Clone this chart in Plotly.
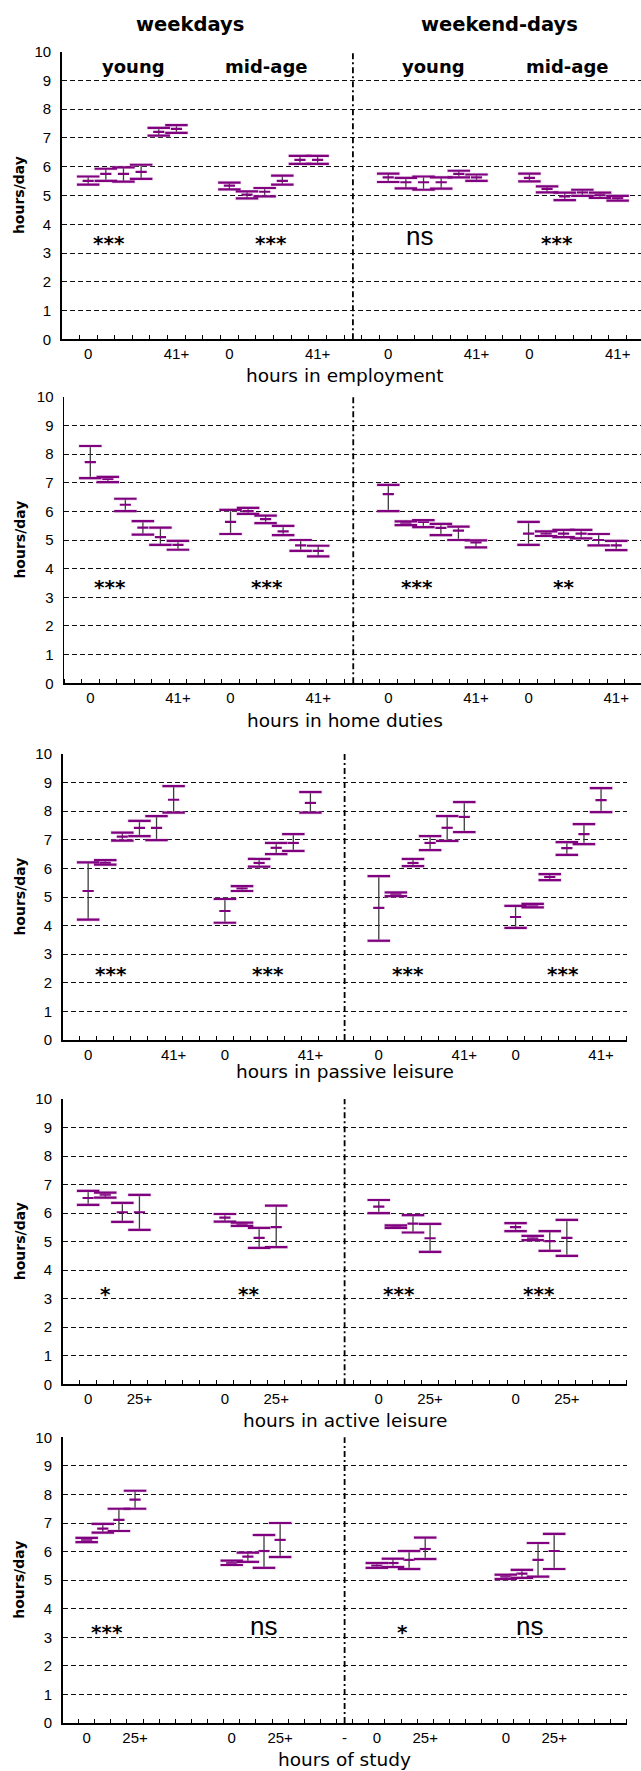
import plotly.graph_objects as go

W, H = 641, 1771
OFF = 0  # body margin is removed in the page, so figure pixels == window pixels

PURPLE = '#800080'
HALO = 'rgba(205,160,205,0.40)'
FONT = 'Liberation Sans, Arial, Helvetica, sans-serif'
WIDE = 'DejaVu Sans, Verdana, sans-serif'
NARROW = 'Liberation Sans Narrow, Liberation Sans, Arial, sans-serif'


def px_x(px):
    return (px - OFF) / W


def px_y(py):
    return 1 - (py - OFF) / H


# ------------------------------------------------------------------ data
# order in every panel: weekdays-young, weekdays-mid-age, weekend-young, weekend-mid-age
six_slots = [1, 2, 3, 4, 5, 6, 9, 10, 11, 12, 13, 14,
             18, 19, 20, 21, 22, 23, 26, 27, 28, 29, 30, 31]
six_tick_slots = [1, 6, 9, 14, 18, 23, 26, 31]
six_tick_text = ['0', '41+', '0', '41+', '0', '41+', '0', '41+']

# hours in employment
emp_mean = [5.51, 5.75, 5.75, 5.82, 7.21, 7.32, 5.34, 5.03, 5.13, 5.51, 6.24, 6.24,
            5.63, 5.46, 5.46, 5.46, 5.75, 5.63, 5.61, 5.23, 4.97, 5.11, 5.02, 4.91]
emp_hi = [5.66, 5.93, 5.98, 6.07, 7.35, 7.45, 5.45, 5.14, 5.26, 5.69, 6.38, 6.38,
          5.76, 5.61, 5.66, 5.63, 5.86, 5.73, 5.76, 5.32, 5.10, 5.20, 5.10, 4.99]
emp_lo = [5.38, 5.51, 5.48, 5.58, 7.08, 7.18, 5.21, 4.90, 4.97, 5.38, 6.10, 6.10,
          5.47, 5.25, 5.20, 5.24, 5.63, 5.51, 5.49, 5.11, 4.84, 4.99, 4.92, 4.82]
emp_sig = ['***', '***', 'ns', '***']
emp_sig_x = [2.7, 11.86, 20.25, 28.05]
emp_sig_y = [3.44, 3.44, 3.5, 3.44]

# hours in home duties
home_mean = [7.72, 7.13, 6.23, 5.43, 5.10, 4.83, 5.63, 6.01, 5.73, 5.30, 4.81, 4.62,
             6.60, 5.59, 5.63, 5.42, 5.33, 4.92, 5.22, 5.22, 5.22, 5.22, 5.00, 4.81]
home_hi = [8.28, 7.20, 6.44, 5.66, 5.43, 4.97, 6.05, 6.12, 5.85, 5.49, 5.00, 4.80,
           6.92, 5.65, 5.69, 5.56, 5.47, 4.99, 5.63, 5.30, 5.35, 5.35, 5.21, 4.97]
home_lo = [7.16, 7.02, 6.01, 5.19, 4.83, 4.66, 5.21, 5.91, 5.59, 5.17, 4.62, 4.43,
           6.01, 5.52, 5.45, 5.17, 5.00, 4.74, 4.83, 5.14, 5.10, 5.06, 4.81, 4.65]
home_sig = ['***', '***', '***', '**']
home_sig_x = [2.64, 11.59, 20.16, 28.5]
home_sig_y = [3.47, 3.47, 3.47, 3.47]

# hours in passive leisure
pas_mean = [5.21, 6.19, 7.11, 7.42, 7.42, 8.40, 4.51, 5.30, 6.19, 6.72, 6.89, 8.29,
            4.62, 5.10, 6.19, 6.89, 7.42, 7.80, 4.30, 4.70, 5.70, 6.71, 7.20, 8.39]
pas_hi = [6.21, 6.29, 7.25, 7.66, 7.83, 8.88, 4.93, 5.38, 6.33, 6.89, 7.20, 8.67,
          5.73, 5.16, 6.33, 7.13, 7.83, 8.32, 4.69, 4.76, 5.80, 6.92, 7.55, 8.81]
pas_lo = [4.21, 6.13, 6.97, 7.13, 6.99, 7.95, 4.10, 5.21, 6.06, 6.50, 6.61, 7.95,
          3.47, 5.03, 6.08, 6.64, 6.96, 7.27, 3.92, 4.64, 5.59, 6.47, 6.85, 7.97]
pas_sig = ['***', '***', '***', '***']
pas_sig_x = [2.82, 12.0, 20.2, 29.3]
pas_sig_y = [2.41, 2.41, 2.41, 2.41]

# hours in active leisure
act_slots = [1, 2, 3, 4, 9, 10, 11, 12, 18, 19, 20, 21, 26, 27, 28, 29]
act_tick_slots = [1, 4, 9, 12, 18, 21, 26, 29]
act_tick_text = ['0', '25+', '0', '25+', '0', '25+', '0', '25+']
act_mean = [6.53, 6.65, 6.03, 6.03, 5.84, 5.61, 5.13, 5.51,
            6.23, 5.53, 5.63, 5.12, 5.51, 5.12, 5.02, 5.13]
act_hi = [6.78, 6.72, 6.36, 6.64, 5.97, 5.67, 5.48, 6.26,
          6.46, 5.57, 5.93, 5.62, 5.65, 5.20, 5.37, 5.76]
act_lo = [6.29, 6.54, 5.69, 5.41, 5.70, 5.55, 4.78, 4.81,
          6.00, 5.48, 5.32, 4.64, 5.37, 5.05, 4.68, 4.50]
act_sig = ['*', '**', '***', '***']
act_sig_x = [2.51, 10.88, 19.7, 27.85]
act_sig_y = [3.28, 3.28, 3.28, 3.28]

# hours of study
stu_slots = [1, 2, 3, 4, 10, 11, 12, 13, 19, 20, 21, 22, 27, 28, 29, 30]
stu_tick_slots = [1, 4, 10, 13, 17, 19, 22, 27, 30]
stu_tick_text = ['0', '25+', '0', '25+', '-', '0', '25+', '0', '25+']
stu_mean = [6.41, 6.80, 7.11, 7.82, 5.60, 5.82, 6.02, 6.41,
            5.51, 5.60, 5.71, 6.09, 5.12, 5.23, 5.71, 6.02]
stu_hi = [6.48, 6.97, 7.50, 8.13, 5.68, 5.96, 6.58, 7.00,
          5.60, 5.75, 6.02, 6.49, 5.19, 5.36, 6.30, 6.62]
stu_lo = [6.33, 6.66, 6.72, 7.50, 5.53, 5.64, 5.43, 5.81,
          5.43, 5.46, 5.39, 5.74, 5.04, 5.08, 5.12, 5.39]
stu_sig = ['***', 'ns', '*', 'ns']
stu_sig_x = [2.77, 12.45, 21.1, 28.95]
stu_sig_y = [3.28, 3.28, 3.28, 3.28]

y_ticks = list(range(0, 11))

# ------------------------------------------------------------------ layout geometry (window pixels)
panels = [
    dict(slots=six_slots, mean=emp_mean, hi=emp_hi, lo=emp_lo,
         tslots=six_tick_slots, ttext=six_tick_text,
         sig=emp_sig, sx=emp_sig_x, sy=emp_sig_y, title='hours in employment',
         left=61.7, right=641, top=51.7, bottom=339.3, xmax=(641 - 61.7) / 17.65,
         nslots=33, div=16.5, title_y=375),
    dict(slots=six_slots, mean=home_mean, hi=home_hi, lo=home_lo,
         tslots=six_tick_slots, ttext=six_tick_text,
         sig=home_sig, sx=home_sig_x, sy=home_sig_y, title='hours in home duties',
         left=64.0, right=641, top=396.7, bottom=683.3, xmax=(641 - 64.0) / 17.53,
         nslots=33, div=16.5, title_y=720),
    dict(slots=six_slots, mean=pas_mean, hi=pas_hi, lo=pas_lo,
         tslots=six_tick_slots, ttext=six_tick_text,
         sig=pas_sig, sx=pas_sig_x, sy=pas_sig_y, title='hours in passive leisure',
         left=62.5, right=626.7, top=754, bottom=1040, xmax=33,
         nslots=33, div=16.5, title_y=1071.7),
    dict(slots=act_slots, mean=act_mean, hi=act_hi, lo=act_lo,
         tslots=act_tick_slots, ttext=act_tick_text,
         sig=act_sig, sx=act_sig_x, sy=act_sig_y, title='hours in active leisure',
         left=62.5, right=626.7, top=1099, bottom=1384.3, xmax=33,
         nslots=33, div=16.5, title_y=1420),
    dict(slots=stu_slots, mean=stu_mean, hi=stu_hi, lo=stu_lo,
         tslots=stu_tick_slots, ttext=stu_tick_text,
         sig=stu_sig, sx=stu_sig_x, sy=stu_sig_y, title='hours of study',
         left=62.5, right=626.7, top=1437.3, bottom=1723, xmax=35,
         nslots=35, div=17.5, title_y=1759),
]

fig = go.Figure()
layout = dict(width=W, height=H, margin=dict(l=0, r=0, t=0, b=0, pad=0, autoexpand=False),
              paper_bgcolor='white', plot_bgcolor='white', showlegend=False)
shapes, annotations = [], []

for i, p in enumerate(panels, start=1):
    sfx = '' if i == 1 else str(i)
    xa, ya = 'x' + sfx, 'y' + sfx
    xs = [s + 0.5 for s in p['slots']]
    up = [h - m for h, m in zip(p['hi'], p['mean'])]
    dn = [m - l for m, l in zip(p['mean'], p['lo'])]

    # stems + mean marks
    fig.add_trace(go.Scatter(
        x=xs, y=p['mean'], mode='markers', xaxis=xa, yaxis=ya, hoverinfo='skip',
        marker=dict(symbol='line-ew', size=8, color=PURPLE,
                    line=dict(color=PURPLE, width=2.2)),
        error_y=dict(type='data', symmetric=False, array=up, arrayminus=dn,
                     color='#3c3c3c', thickness=1.3, width=0)))
    capx = xs + xs
    capy = list(p['hi']) + list(p['lo'])
    # caps: soft halo then purple bar
    fig.add_trace(go.Scatter(
        x=capx, y=capy, mode='markers', xaxis=xa, yaxis=ya, hoverinfo='skip',
        marker=dict(symbol='line-ew', size=17, color=HALO,
                    line=dict(color=HALO, width=3.6))))
    fig.add_trace(go.Scatter(
        x=capx, y=capy, mode='markers', xaxis=xa, yaxis=ya, hoverinfo='skip',
        marker=dict(symbol='line-ew', size=16, color=PURPLE,
                    line=dict(color=PURPLE, width=2.2))))

    layout['xaxis' + sfx] = dict(
        domain=[px_x(p['left']), min(1.0, px_x(p['right']))],
        range=[0, p['xmax']],
        anchor=ya, automargin=False,
        tickmode='array', tickvals=[s + 0.5 for s in p['tslots']], ticktext=p['ttext'],
        ticks='', showgrid=False, zeroline=False, showline=True,
        linecolor='black', linewidth=1.5, ticklabeloverflow='allow',
        tickfont=dict(family=FONT, size=15, color='black'),
        minor=dict(tickmode='array', tickvals=list(range(0, p['nslots'] + 1)),
                   ticks='inside', ticklen=4, tickwidth=1, tickcolor='black',
                   showgrid=False),
        fixedrange=True)
    layout['yaxis' + sfx] = dict(
        domain=[px_y(p['bottom']), px_y(p['top'])], range=[0, 10], anchor=xa,
        automargin=False,
        tickmode='array', tickvals=y_ticks, ticks='', ticklabelstandoff=6,
        showgrid=True, gridcolor='#111111', gridwidth=1, griddash='5px,3px',
        zeroline=False, showline=True, linecolor='black', linewidth=1.5,
        tickfont=dict(family=FONT, size=15, color='black'), fixedrange=True)

    # weekday / weekend divider
    shapes.append(dict(type='line', xref=xa, yref=ya + ' domain',
                       x0=p['div'], x1=p['div'], y0=0, y1=1,
                       line=dict(color='black', width=1.8, dash='6px,3px,2px,3px')))

    # significance markers
    for t, sx, sy in zip(p['sig'], p['sx'], p['sy']):
        if t == 'ns':
            annotations.append(dict(xref=xa, yref=ya, x=sx, y=sy, text=t, showarrow=False,
                                    font=dict(family=NARROW, size=26, color='black'),
                                    xanchor='center', yanchor='middle', yshift=3))
        else:
            annotations.append(dict(xref=xa, yref=ya, x=sx, y=sy, text='<b>' + t + '</b>',
                                    showarrow=False,
                                    font=dict(family=WIDE, size=20, color='black'),
                                    xanchor='center', yanchor='middle', yshift=-3))

    # y title
    annotations.append(dict(xref='paper', yref='paper', x=px_x(19.6),
                            y=px_y((p['top'] + p['bottom']) / 2),
                            text='<b>hours/day</b>', textangle=-90, showarrow=False,
                            font=dict(family=WIDE, size=14, color='black'),
                            xanchor='center', yanchor='middle'))
    # x title
    annotations.append(dict(xref='paper', yref='paper', x=px_x(344.6),
                            y=px_y(p['title_y']), text=p['title'], showarrow=False,
                            font=dict(family=WIDE, size=18.5, color='black'),
                            xanchor='center', yanchor='middle'))

# column headings
for txt, px in [('weekdays', 190), ('weekend-days', 499.6)]:
    annotations.append(dict(xref='paper', yref='paper', x=px_x(px), y=px_y(25),
                            text='<b>' + txt + '</b>', showarrow=False,
                            font=dict(family=WIDE, size=19.5, color='black'),
                            xanchor='center', yanchor='middle'))
# age-group headings inside the first panel
for txt, gx in [('young', 4.08), ('mid-age', 11.63), ('young', 21.06), ('mid-age', 28.66)]:
    annotations.append(dict(xref='x', yref='y', x=gx, y=9.48, text='<b>' + txt + '</b>',
                            showarrow=False, font=dict(family=WIDE, size=18, color='black'),
                            xanchor='center', yanchor='middle'))

layout['shapes'] = shapes
layout['annotations'] = annotations
fig.update_layout(**layout)
fig.write_html('out.html',
               config={'displayModeBar': False, 'staticPlot': True},
               post_script="document.body.style.margin='0px';"
                           "document.body.style.overflow='hidden';")
